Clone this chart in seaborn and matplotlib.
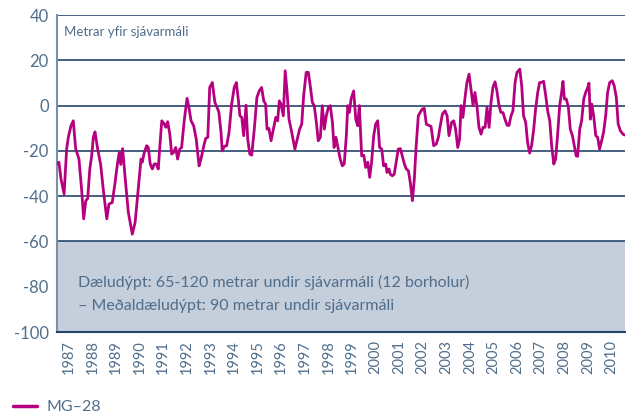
import numpy as np
import pandas as pd
import matplotlib
matplotlib.use("Agg")
import matplotlib.pyplot as plt
import seaborn as sns

# Decimal years and water level (m above sea level)
years = [1987.03, 1987.08, 1987.17, 1987.30, 1987.41, 1987.48, 1987.59, 1987.69, 1987.79, 1987.93,
         1988.05, 1988.13, 1988.22, 1988.30, 1988.39, 1988.47, 1988.54, 1988.61, 1988.72, 1988.85,
         1988.96, 1989.11, 1989.20, 1989.34, 1989.46, 1989.57, 1989.64, 1989.70, 1989.78, 1989.88,
         1990.02, 1990.19, 1990.31, 1990.44, 1990.56, 1990.61, 1990.70, 1990.80, 1990.87, 1990.95,
         1991.04, 1991.12, 1991.21, 1991.29, 1991.36, 1991.44, 1991.55, 1991.61, 1991.69, 1991.78,
         1991.86, 1991.94, 1992.03, 1992.11, 1992.20, 1992.28, 1992.39, 1992.51, 1992.59, 1992.68,
         1992.79, 1992.90, 1993.02, 1993.10, 1993.22, 1993.30, 1993.39, 1993.47, 1993.58, 1993.69,
         1993.81, 1993.86, 1993.95, 1994.00, 1994.09, 1994.19, 1994.29, 1994.40, 1994.51, 1994.60,
         1994.68, 1994.75, 1994.83, 1994.91, 1995.01, 1995.08, 1995.17, 1995.25, 1995.36, 1995.47,
         1995.57, 1995.67, 1995.76, 1995.84, 1995.90, 1995.98, 1996.07, 1996.17, 1996.27, 1996.35,
         1996.42, 1996.49, 1996.59, 1996.67, 1996.75, 1996.83, 1996.92, 1997.00, 1997.08, 1997.20,
         1997.28, 1997.37, 1997.45, 1997.56, 1997.65, 1997.73, 1997.82, 1997.90, 1997.99, 1998.07,
         1998.16, 1998.24, 1998.33, 1998.41, 1998.50, 1998.58, 1998.67, 1998.74, 1998.82, 1998.92,
         1999.00, 1999.09, 1999.17, 1999.26, 1999.32, 1999.39, 1999.46, 1999.57, 1999.66, 1999.74,
         1999.81, 1999.91, 2000.00, 2000.08, 2000.17, 2000.25, 2000.33, 2000.42, 2000.50, 2000.59,
         2000.67, 2000.76, 2000.84, 2000.93, 2000.98, 2001.07, 2001.12, 2001.21, 2001.29, 2001.38,
         2001.46, 2001.55, 2001.63, 2001.72, 2001.80, 2001.89, 2001.97, 2002.06, 2002.14, 2002.22,
         2002.31, 2002.39, 2002.48, 2002.56, 2002.65, 2002.73, 2002.85, 2002.96, 2003.07, 2003.16,
         2003.24, 2003.33, 2003.44, 2003.53, 2003.61, 2003.72, 2003.81, 2003.89, 2003.98, 2004.06,
         2004.12, 2004.20, 2004.29, 2004.37, 2004.46, 2004.54, 2004.63, 2004.71, 2004.80, 2004.88,
         2004.97, 2005.05, 2005.14, 2005.22, 2005.31, 2005.39, 2005.47, 2005.56, 2005.64, 2005.73,
         2005.81, 2005.90, 2005.98, 2006.07, 2006.15, 2006.24, 2006.32, 2006.41, 2006.49, 2006.61,
         2006.69, 2006.77, 2006.86, 2006.94, 2007.03, 2007.11, 2007.20, 2007.28, 2007.37, 2007.45,
         2007.51, 2007.62, 2007.71, 2007.79, 2007.88, 2007.96, 2008.05, 2008.13, 2008.22, 2008.30,
         2008.39, 2008.44, 2008.50, 2008.58, 2008.67, 2008.75, 2008.84, 2008.92, 2009.00, 2009.06,
         2009.15, 2009.23, 2009.32, 2009.40, 2009.49, 2009.54, 2009.60, 2009.66, 2009.74, 2009.83,
         2009.91, 2009.99, 2010.08, 2010.16, 2010.25, 2010.33, 2010.42, 2010.53, 2010.61, 2010.70,
         2010.78, 2010.87, 2010.98, 2011.04]
level = [-25.8, -25.0, -32.5, -39.0, -19.0, -14.0, -9.0, -6.7, -19.0, -23.6,
         -38.0, -50.0, -42.0, -41.0, -28.0, -22.0, -14.0, -11.6, -19.0, -26.0,
         -37.0, -50.0, -43.5, -42.8, -34.0, -25.0, -20.7, -26.0, -19.0, -31.0,
         -47.0, -56.8, -51.6, -37.0, -23.6, -25.0, -20.7, -17.7, -18.5, -25.8,
         -28.0, -25.8, -25.8, -28.0, -17.7, -6.7, -8.2, -9.6, -7.1, -12.6,
         -21.4, -20.7, -18.5, -23.6, -19.2, -18.5, -6.7, 3.2, -0.8, -6.7,
         -8.9, -14.8, -26.6, -23.6, -17.8, -14.5, -14.0, 8.0, 10.2, 1.4,
         -1.5, -3.0, -11.8, -20.0, -18.0, -17.7, -11.8, 0.7, 8.0, 10.2,
         2.9, -4.5, -5.2, -13.3, 0.2, -14.8, -21.4, -21.9, -10.4, 3.6,
         6.5, 8.0, 2.1, 0.7, -10.4, -10.1, -15.5, -10.4, -5.2, -6.7,
         2.1, 0.7, -4.5, 15.4, 5.8, -6.0, -10.4, -14.8, -19.2, -14.0,
         -10.4, -8.2, 4.3, 14.7, 14.7, 8.8, 1.4, 0.0, -7.4, -15.5,
         -14.0, 0.0, -10.4, -4.5, -0.8, 0.0, -7.4, -18.5, -14.0, -19.2,
         -23.6, -26.6, -25.8, -13.3, 0.0, -3.0, 2.9, 6.5, -6.0, -8.9,
         0.0, -22.2, -21.9, -27.3, -25.0, -31.7, -25.0, -13.3, -8.2, -6.7,
         -18.5, -19.2, -26.6, -25.8, -29.5, -28.0, -30.3, -31.0, -30.3, -24.4,
         -19.2, -19.0, -22.2, -25.8, -28.0, -28.8, -34.0, -42.0, -32.5, -17.7,
         -4.5, -3.0, -1.5, -1.2, -8.2, -8.6, -9.2, -17.7, -17.0, -14.0,
         -8.9, -3.8, -2.3, -4.5, -13.3, -7.4, -6.7, -10.4, -18.5, -14.8,
         0.0, -5.2, 3.6, 10.2, 13.9, 7.3, 0.0, 5.8, -0.8, -9.6,
         -12.6, -9.6, -9.6, -0.8, -9.6, 1.4, 8.0, 10.5, 6.5, 0.0,
         -3.0, -3.1, -6.0, -8.6, -8.8, -4.5, -2.3, 10.2, 14.7, 16.1,
         8.8, -4.5, -7.4, -16.3, -21.0, -17.7, -10.4, -1.5, 5.8, 10.2,
         10.2, 10.7, 4.3, -2.3, -6.7, -17.7, -25.8, -23.6, -11.8, 0.0,
         6.5, 10.7, 2.9, 2.9, -0.8, -10.4, -13.3, -17.7, -22.2, -22.4,
         -10.4, -6.7, 2.9, 5.8, 8.0, 9.9, -6.0, 0.7, -4.5, -13.3,
         -14.0, -19.2, -15.5, -11.8, -4.5, 5.8, 10.2, 11.0, 8.8, 3.6,
         -8.2, -11.1, -12.6, -13.0]

year_labels = [str(y) for y in range(1987, 2011)]
y_ticks = [40, 20, 0, -20, -40, -60, -80, -100]
series_name = "MG–28"
y_title = "Metrar yfir sjávarmáli"
note_lines = ["Dæludýpt: 65-120 metrar undir sjávarmáli (12 borholur)",
              "– Meðaldæludýpt: 90 metrar undir sjávarmáli"]

df = pd.DataFrame({"year": years, "level": level, "series": series_name})

sns.set_style("white")
plt.rcParams["font.family"] = ["Lato", "DejaVu Sans"]

TXT = "#4f6e8c"
GRID = "#24456a"
LINE = "#b5007f"

fig = plt.figure(figsize=(6.32, 4.18), dpi=100)
ax = fig.add_axes([0.0902, 0.2057, 0.8988, 0.7583])

ax.axhspan(-100, -60, color="#c5cedb", zorder=0, lw=0)
for v in [40, 20, 0, -20, -40, -60]:
    ax.axhline(v, color=GRID, lw=1.2, zorder=1)

sns.lineplot(data=df, x="year", y="level", color=LINE, lw=2.0, ax=ax,
             legend=False, zorder=3, estimator=None, sort=False)

ax.set_xlim(1987.0, 2011.07)
ax.set_ylim(-100, 40)
ax.set_yticks(y_ticks)
ax.set_yticklabels([str(t) for t in y_ticks])
ax.tick_params(axis="y", length=0, labelsize=12, labelcolor=TXT, pad=6)

ax.set_xticks(np.arange(1988, 2012), minor=False)
ax.set_xticklabels([])
ax.tick_params(axis="x", which="major", direction="in", length=4, width=1, color=GRID)
ax.set_xticks(np.arange(1987, 2011) + 0.5, minor=True)
ax.set_xticklabels(year_labels, minor=True, rotation=90)
ax.tick_params(axis="x", which="minor", length=0, labelsize=10.5, labelcolor=TXT, pad=6)

for s in ["top", "right"]:
    ax.spines[s].set_visible(False)
ax.spines["left"].set_color("#7890a8")
ax.spines["left"].set_linewidth(1.5)
ax.spines["bottom"].set_color(GRID)
ax.spines["bottom"].set_linewidth(1.5)
ax.set_xlabel("")
ax.set_ylabel("")

ax.text(0.012, 0.945, y_title, transform=ax.transAxes, fontsize=9.5, color=TXT,
        ha="left", va="center")
ax.text(1987.9, -78, note_lines[0], fontsize=11.5, color=TXT, ha="left", va="center")
ax.text(1987.9, -88.5, note_lines[1], fontsize=11.5, color=TXT, ha="left", va="center")

fig.lines.append(plt.Line2D([13 / 632, 37 / 632], [12 / 418, 12 / 418], color=LINE,
                            lw=2.5, transform=fig.transFigure))
fig.text(47 / 632, 11 / 418, series_name, fontsize=11.5, color=TXT, ha="left", va="center")

fig.savefig("out.png", dpi=100)
